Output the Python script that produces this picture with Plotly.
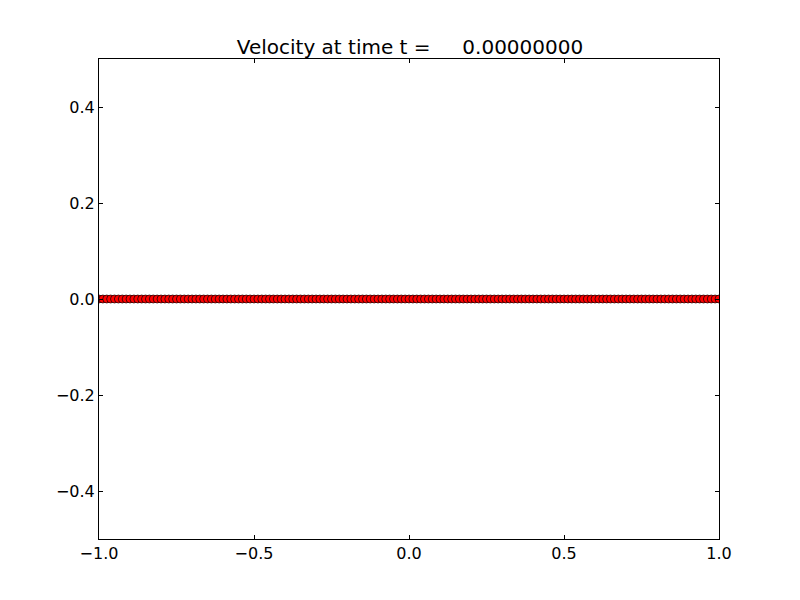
import numpy as np
import plotly.graph_objects as go

# grid positions (uniform mesh on [-1, 1]) and velocity values at t = 0
n_points = 161
x_grid = np.linspace(-1.0, 1.0, n_points).tolist()
velocity = [0.0] * n_points

x_ticks = [-1.0, -0.5, 0.0, 0.5, 1.0]
y_ticks = [-0.4, -0.2, 0.0, 0.2, 0.4]
time_value = 0.0

title_text = "Velocity at time t =" + "\u00a0" * 5 + f"{time_value:.8f}"

fig = go.Figure()
fig.add_trace(go.Scatter(
    x=x_grid, y=velocity, mode="markers",
    marker=dict(symbol="circle", size=8, color="red",
                line=dict(color="black", width=0.7)),
    cliponaxis=True, showlegend=False,
))

axis_common = dict(
    showline=True, linecolor="black", linewidth=1, mirror="ticks",
    ticks="inside", ticklen=4, tickwidth=1, tickcolor="black",
    showgrid=False, zeroline=False,
    tickfont=dict(family="DejaVu Sans", size=16, color="black"),
)

# page body has an 8px margin, so the figure is offset by 8px
fig.update_layout(
    width=800, height=600,
    paper_bgcolor="white", plot_bgcolor="white",
    margin=dict(l=91, r=89, t=51, b=69),
    title=dict(text=title_text, x=(410 - 8) / 800, xanchor="center",
               y=1 - 39 / 600, yanchor="middle",
               font=dict(family="DejaVu Sans", size=20, color="black")),
    xaxis=dict(range=[-1, 1], tickvals=x_ticks,
               ticktext=[f"{v:.1f}".replace("-", "\u2212") for v in x_ticks],
               **axis_common),
    yaxis=dict(range=[-0.5, 0.5], tickvals=y_ticks,
               ticktext=[f"{v:.1f}".replace("-", "\u2212") for v in y_ticks],
               **axis_common),
)

fig.write_html("out.html")
